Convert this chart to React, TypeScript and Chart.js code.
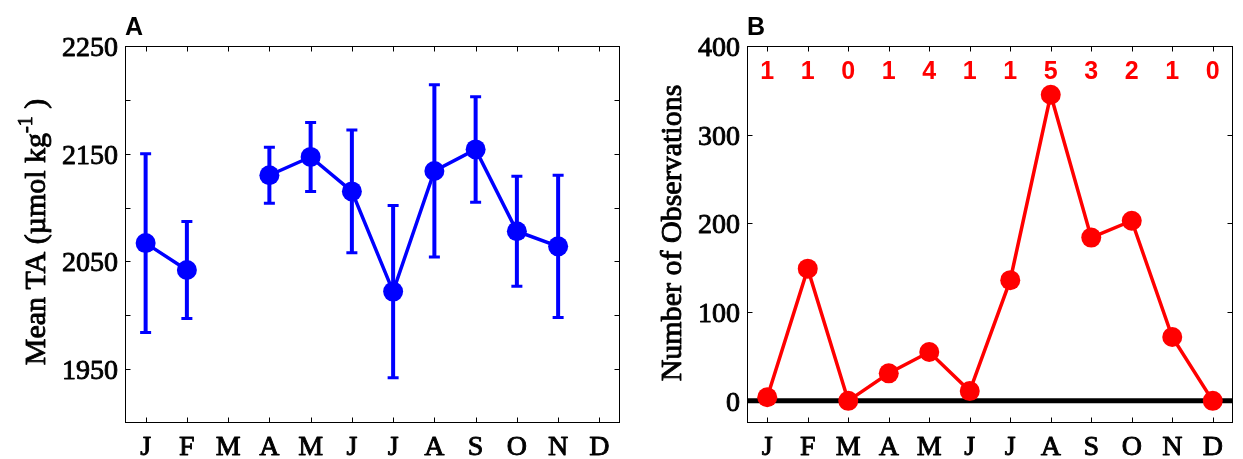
import { useEffect, useRef } from "react";
import { Chart, registerables } from "chart.js";

Chart.register(...registerables);

// Month initials along both x axes
const MONTHS = ["J", "F", "M", "A", "M", "J", "J", "A", "S", "O", "N", "D"];

// Panel A: monthly mean total alkalinity and its spread
const TA_MEAN = [2067, 2042, null, 2130, 2147, 2115, 2022, 2134, 2154, 2078, 2064, null];
const TA_ERR = [83, 45, null, 26, 32, 57, 80, 80, 49, 51, 66, null];
const TA_TICKS = [1950, 2000, 2050, 2100, 2150, 2200, 2250];
const TA_LABELED = [1950, 2050, 2150, 2250];

// Panel B: number of observations per month and number of sampled years
const OBS_COUNT = [4, 149, 0, 31, 55, 11, 136, 345, 184, 203, 72, 0];
const YEAR_COUNT = [1, 1, 0, 1, 4, 1, 1, 5, 3, 2, 1, 0];
const OBS_TICKS = [0, 100, 200, 300, 400];
const OBS_LABELED = [0, 100, 200, 300, 400];

const SERIF = '"Liberation Serif", "Times New Roman", serif';
const SANS = '"Liberation Sans", Arial, sans-serif';

type PanelSpec = {
  letter: string;
  yTicks: number[];
  yLabeled: number[];
  title: string;
  titleSup?: string;
  titleTail?: string;
  titleX: number;
  titleY: number;
  errors?: (number | null)[];
  errColor?: string;
  zeroLine?: boolean;
  counts?: number[];
};

// serif text with a slightly heavier stroke
function heavyText(ctx: CanvasRenderingContext2D, s: string, x: number, y: number) {
  ctx.fillText(s, x, y);
  ctx.strokeText(s, x, y);
}

function drawFrame(chart: any, spec: PanelSpec) {
  const { ctx, chartArea: a, scales } = chart;
  const xs = scales.x;
  const ys = scales.y;
  const L = Math.round(a.left) + 0.5;
  const T = Math.round(a.top) + 0.5;
  const R = Math.round(a.right) - 0.5;
  const B = Math.round(a.bottom) - 0.5;
  const tick = 5;

  ctx.save();
  ctx.strokeStyle = "#000";
  ctx.lineWidth = 1;
  ctx.strokeRect(L, T, R - L, B - T);

  ctx.beginPath();
  MONTHS.forEach((_, i) => {
    const x = Math.round(xs.getPixelForValue(i + 1)) + 0.5;
    ctx.moveTo(x, B);
    ctx.lineTo(x, B - tick);
    ctx.moveTo(x, T);
    ctx.lineTo(x, T + tick);
  });
  spec.yTicks.forEach((v) => {
    const y = Math.round(ys.getPixelForValue(v)) + 0.5;
    ctx.moveTo(L, y);
    ctx.lineTo(L + tick, y);
    ctx.moveTo(R, y);
    ctx.lineTo(R - tick, y);
  });
  ctx.stroke();

  // tick labels
  ctx.fillStyle = "#000";
  ctx.lineWidth = 0.9;
  ctx.lineJoin = "round";
  ctx.font = `28px ${SERIF}`;
  ctx.textBaseline = "alphabetic";
  ctx.textAlign = "center";
  MONTHS.forEach((m, i) => {
    heavyText(ctx, m, xs.getPixelForValue(i + 1), a.bottom + 32);
  });
  ctx.textAlign = "right";
  spec.yLabeled.forEach((v) => {
    heavyText(ctx, String(v), a.left - 7, ys.getPixelForValue(v) + 10);
  });

  // panel letter
  ctx.font = `bold 25px ${SANS}`;
  ctx.textAlign = "left";
  ctx.fillText(spec.letter, a.left, a.top - 11);

  // rotated axis title with optional superscript
  ctx.translate(spec.titleX, spec.titleY);
  ctx.rotate(-Math.PI / 2);
  const mainFont = `30px ${SERIF}`;
  const supFont = `20px ${SERIF}`;
  ctx.font = mainFont;
  const w1 = ctx.measureText(spec.title).width;
  const w3 = spec.titleTail ? ctx.measureText(spec.titleTail).width : 0;
  ctx.font = supFont;
  const w2 = spec.titleSup ? ctx.measureText(spec.titleSup).width : 0;
  let x = -(w1 + w2 + w3) / 2;
  ctx.textAlign = "left";
  ctx.font = mainFont;
  heavyText(ctx, spec.title, x, 0);
  x += w1;
  if (spec.titleSup) {
    ctx.font = supFont;
    heavyText(ctx, spec.titleSup, x, -13);
    x += w2;
  }
  if (spec.titleTail) {
    ctx.font = mainFont;
    heavyText(ctx, spec.titleTail, x, 0);
  }
  ctx.restore();
}

function makePlugin(spec: PanelSpec) {
  return {
    id: "panel" + spec.letter,
    beforeDatasetsDraw(chart: any) {
      const { ctx, chartArea: a, scales } = chart;
      const xs = scales.x;
      const ys = scales.y;
      ctx.save();
      if (spec.zeroLine) {
        const y0 = ys.getPixelForValue(0);
        ctx.strokeStyle = "#000";
        ctx.lineWidth = 5;
        ctx.beginPath();
        ctx.moveTo(a.left, y0);
        ctx.lineTo(a.right, y0);
        ctx.stroke();
      }
      if (spec.errors) {
        const data = chart.data.datasets[0].data as any[];
        ctx.strokeStyle = spec.errColor;
        spec.errors.forEach((e, i) => {
          const p = data[i];
          if (e == null || p == null || p.y == null) return;
          const x = xs.getPixelForValue(p.x);
          const yt = ys.getPixelForValue(p.y + e);
          const yb = ys.getPixelForValue(p.y - e);
          ctx.lineWidth = 4;
          ctx.beginPath();
          ctx.moveTo(x, yt);
          ctx.lineTo(x, yb);
          ctx.stroke();
          ctx.lineWidth = 3;
          ctx.beginPath();
          ctx.moveTo(x - 5.5, yt);
          ctx.lineTo(x + 5.5, yt);
          ctx.moveTo(x - 5.5, yb);
          ctx.lineTo(x + 5.5, yb);
          ctx.stroke();
        });
      }
      ctx.restore();
    },
    afterDraw(chart: any) {
      const { ctx, chartArea: a, scales } = chart;
      if (spec.counts) {
        ctx.save();
        ctx.fillStyle = "#ff0000";
        ctx.font = `bold 25px ${SANS}`;
        ctx.textAlign = "center";
        ctx.textBaseline = "alphabetic";
        spec.counts.forEach((c, i) => {
          ctx.fillText(String(c), scales.x.getPixelForValue(i + 1), a.top + 32.5);
        });
        ctx.restore();
      }
      drawFrame(chart, spec);
    },
  };
}

function makeChart(
  canvas: HTMLCanvasElement,
  values: (number | null)[],
  color: string,
  yMin: number,
  yMax: number,
  padding: { left: number; right: number; top: number; bottom: number },
  spec: PanelSpec
) {
  return new Chart(canvas, {
    type: "line",
    data: {
      datasets: [
        {
          data: values.map((v, i) => ({ x: i + 1, y: v })) as any,
          borderColor: color,
          backgroundColor: color,
          borderWidth: 3.5,
          pointRadius: 10,
          pointBorderWidth: 0,
          pointBackgroundColor: color,
          pointHoverRadius: 10,
          spanGaps: false,
          tension: 0,
          clip: false as any,
        },
      ],
    },
    options: {
      responsive: false,
      animation: false,
      events: [],
      layout: { padding },
      plugins: {
        legend: { display: false },
        tooltip: { enabled: false },
        title: { display: false },
      },
      scales: {
        x: { type: "linear", display: false, min: 0.5, max: 12.5 },
        y: { type: "linear", display: false, min: yMin, max: yMax },
      },
    },
    plugins: [makePlugin(spec)],
  });
}

export default function App() {
  const leftRef = useRef<HTMLCanvasElement>(null);
  const rightRef = useRef<HTMLCanvasElement>(null);

  useEffect(() => {
    const left = makeChart(
      leftRef.current!,
      TA_MEAN,
      "#0000ff",
      1900,
      2250,
      { left: 125, right: 9, top: 46, bottom: 36 },
      {
        letter: "A",
        yTicks: TA_TICKS,
        yLabeled: TA_LABELED,
        title: "Mean TA (\u00b5mol kg",
        titleSup: "-1",
        titleTail: " )",
        titleX: 45,
        titleY: 232,
        errors: TA_ERR,
        errColor: "#0000ff",
      }
    );
    const right = makeChart(
      rightRef.current!,
      OBS_COUNT,
      "#ff0000",
      -25,
      400,
      { left: 117, right: 1, top: 46, bottom: 36 },
      {
        letter: "B",
        yTicks: OBS_TICKS,
        yLabeled: OBS_LABELED,
        title: "Number of Observations",
        titleX: 51,
        titleY: 233,
        zeroLine: true,
        counts: YEAR_COUNT,
      }
    );
    return () => {
      left.destroy();
      right.destroy();
    };
  }, []);

  return (
    <div
      style={{
        position: "fixed",
        left: 0,
        top: 0,
        width: 1243,
        height: 459,
        background: "#fff",
        overflow: "hidden",
      }}
    >
      <canvas
        ref={leftRef}
        width={630}
        height={459}
        style={{ position: "absolute", left: 0, top: 0, width: 630, height: 459 }}
      />
      <canvas
        ref={rightRef}
        width={613}
        height={459}
        style={{ position: "absolute", left: 630, top: 0, width: 613, height: 459 }}
      />
    </div>
  );
}
